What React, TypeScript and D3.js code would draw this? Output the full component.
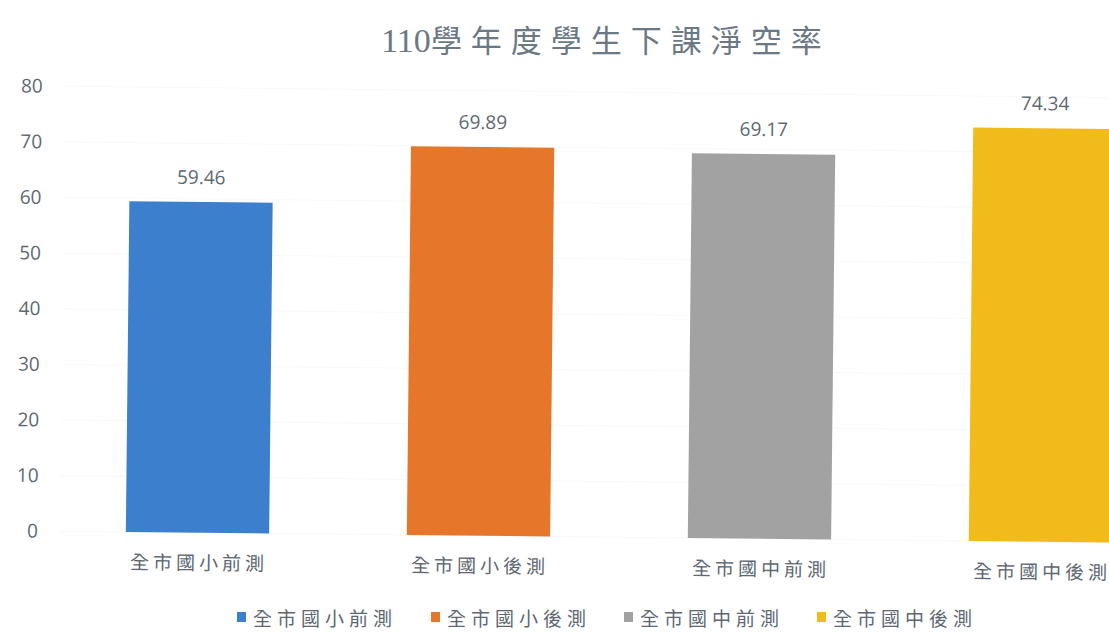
import React from "react";
import * as d3 from "d3";

const categories = ["全市國小前測", "全市國小後測", "全市國中前測", "全市國中後測"];
const values = [59.46, 69.89, 69.17, 74.34];
const colors = ["#3b7fcd", "#e5762a", "#a2a2a2", "#f1bb1c"];
const yTicks = [0, 10, 20, 30, 40, 50, 60, 70, 80];
const title = "學年度學生下課淨空率";
const titleNum = "110";

export default function App() {
  const W = 1109, H = 632;
  const baseY = 532, topY = 87;
  const y = d3.scaleLinear().domain([0, 80]).range([baseY, topY]);
  const x = d3.scaleBand<string>().domain(categories).range([57, 1181]).paddingInner(0.49).paddingOuter(0.245);
  const angle = 0.61;
  const textColor = "#5d6873";
  const cjk = "'Noto Sans CJK TC', 'Noto Sans CJK SC', sans-serif";
  const legendX = [237, 431, 624, 817];
  return (
    <svg width={W} height={H} style={{ position: "absolute", left: 0, top: 0, background: "#fff" }}>
      <rect width={W} height={H} fill="#fff" />
      <text x={606} y={52} textAnchor="middle" fill="#6b7885" fontSize={31} fontFamily={cjk} letterSpacing={9}>
        <tspan fontFamily="'Liberation Serif', serif" fontSize={34} letterSpacing={0}>{titleNum}</tspan>
        {title}
      </text>
      <g transform={`rotate(${angle}, 130, ${baseY})`}>
        {yTicks.map((t) => (
          <g key={t}>
            <line x1={60} x2={W + 80} y1={y(t)} y2={y(t)} stroke="#f7f8f9" strokeWidth={1} />
            <text x={38} y={y(t)} dy="0.35em" textAnchor="end" fill={textColor} fontSize={19} fontFamily="'Open Sans', sans-serif">{t}</text>
          </g>
        ))}
        {categories.map((c, i) => (
          <g key={c}>
            <rect x={x(c)} y={y(values[i])} width={x.bandwidth()} height={baseY - y(values[i])} fill={colors[i]} />
            <text x={(x(c) as number) + x.bandwidth() / 2} y={y(values[i]) - 18} textAnchor="middle" fill={textColor} fontSize={19} fontFamily="'Open Sans', sans-serif">{values[i].toFixed(2)}</text>
            <text x={(x(c) as number) + x.bandwidth() / 2 + 2} y={baseY + 37} textAnchor="middle" fill={textColor} fontSize={19} fontFamily={cjk} letterSpacing={4}>{c}</text>
          </g>
        ))}
      </g>
      {categories.map((c, i) => (
        <g key={"lg" + c}>
          <rect x={legendX[i]} y={612} width={9} height={10} fill={colors[i]} />
          <text x={legendX[i] + 16} y={626} fill={textColor} fontSize={19} fontFamily={cjk} letterSpacing={5}>{c}</text>
        </g>
      ))}
    </svg>
  );
}
